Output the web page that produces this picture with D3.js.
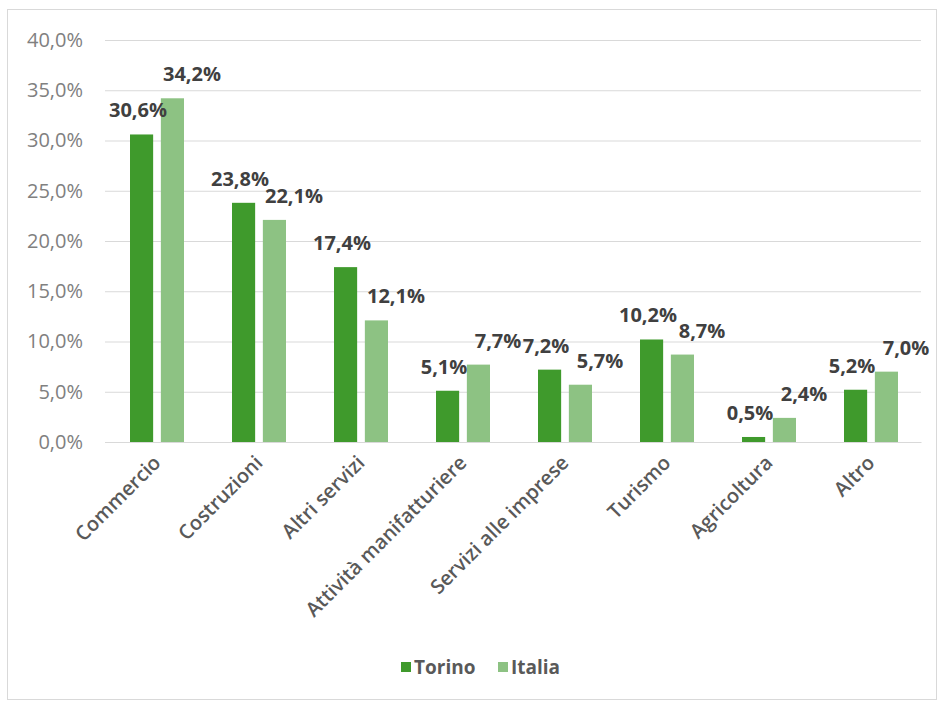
<!DOCTYPE html>
<html>
<head>
<meta charset="utf-8">
<script src="https://cdn.jsdelivr.net/npm/d3@7"></script>
<style>
	body { margin: 0; background: #fff; }
	text { font-family: "Open Sans", "Noto Sans", sans-serif; }
</style>
</head>
<body>
<div id="chart"></div>
<script>
	var categories = ["Commercio", "Costruzioni", "Altri servizi", "Attività manifatturiere",
		"Servizi alle imprese", "Turismo", "Agricoltura", "Altro"]
	var series = ["Torino", "Italia"]
	var torino = [30.6, 23.8, 17.4, 5.1, 7.2, 10.2, 0.5, 5.2]
	var italia = [34.2, 22.1, 12.1, 7.7, 5.7, 8.7, 2.4, 7.0]
	var yTicks = [0, 5, 10, 15, 20, 25, 30, 35, 40]

	var w = 939
	var h = 702
	var colors = { Torino: "#3f9a2c", Italia: "#8dc283" }
	// label nudges, like Excel's outside-end labels
	var labelShift = { Torino: -18, Italia: 36 }
	var boundaries = { top: 40, bottom: 442, left: 105, right: 921 }

	var fmt = v => v.toFixed(1).replace(".", ",") + "%"

	var data = categories.map((c, i) => ({ cat: c, Torino: torino[i], Italia: italia[i] }))

	var svg = d3.select("#chart").append("svg")
		.attr("width", w)
		.attr("height", h)

	// frame
	svg.append("rect")
		.attr("x", 7.5).attr("y", 9.5)
		.attr("width", 929).attr("height", 690)
		.attr("fill", "#fff")
		.attr("stroke", "#d9d9d9")

	let xScale = d3.scaleBand()
		.domain(categories)
		.range([boundaries.left, boundaries.right])

	let xInner = d3.scaleBand()
		.domain(series)
		.range([xScale.bandwidth() / 2 - 26, xScale.bandwidth() / 2 + 28])
		.paddingInner(0.25)

	let yScale = d3.scaleLinear()
		.domain([0, 40])
		.range([boundaries.bottom, boundaries.top])

	// gridlines + y labels
	let yAxis = d3.axisLeft(yScale)
		.tickValues(yTicks)
		.tickSize(-(boundaries.right - boundaries.left))
		.tickPadding(22)
		.tickFormat(fmt)

	svg.append("g")
		.attr("transform", "translate(" + boundaries.left + ",0)")
		.call(yAxis)
		.call(g => g.select(".domain").remove())
		.call(g => g.selectAll("line").attr("stroke", "#d9d9d9"))
		.call(g => g.selectAll("text")
			.attr("fill", "#808080")
			.style("font-size", "20px"))

	// bars
	let groups = svg.selectAll(".cat")
		.data(data)
		.enter()
		.append("g").attr("class", "cat")
		.attr("transform", d => "translate(" + xScale(d.cat) + ",0)")

	groups.selectAll("rect")
		.data(d => series.map(s => ({ s: s, v: d[s] })))
		.enter()
		.append("rect")
		.attr("x", d => xInner(d.s))
		.attr("y", d => yScale(d.v))
		.attr("width", xInner.bandwidth())
		.attr("height", d => boundaries.bottom - yScale(d.v))
		.attr("fill", d => colors[d.s])

	// data labels
	groups.selectAll(".lbl")
		.data(d => series.map(s => ({ s: s, v: d[s] })))
		.enter()
		.append("text").attr("class", "lbl")
		.attr("x", d => xScale.bandwidth() / 2 + labelShift[d.s])
		.attr("y", d => yScale(d.v) - 17)
		.attr("text-anchor", "middle")
		.attr("fill", "#404040")
		.style("font-size", "20px")
		.style("font-weight", "bold")
		.text(d => fmt(d.v))

	// x axis
	let xAxis = d3.axisBottom(xScale).tickSize(0).tickPadding(0)

	svg.append("g")
		.attr("transform", "translate(0," + boundaries.bottom + ")")
		.call(xAxis)
		.call(g => g.select(".domain").attr("stroke", "#d9d9d9"))
		.call(g => g.selectAll("text")
			.attr("fill", "#595959")
			.attr("dy", null)
			.attr("y", 0)
			.attr("text-anchor", "end")
			.attr("transform", "translate(6,22) rotate(-45)")
			.style("font-size", "20px")
			.style("font-weight", "600"))

	// legend
	let legend = svg.append("g")
		.attr("transform", "translate(401,662)")

	let items = legend.selectAll("g")
		.data(series)
		.enter()
		.append("g")
		.attr("transform", (d, i) => "translate(" + (i * 97) + ",0)")

	items.append("rect")
		.attr("width", 10).attr("height", 10)
		.attr("fill", d => colors[d])

	items.append("text")
		.attr("x", 13).attr("y", 12)
		.attr("fill", "#595959")
		.style("font-size", "19px")
		.style("font-weight", "bold")
		.text(d => d)
</script>
</body>
</html>
